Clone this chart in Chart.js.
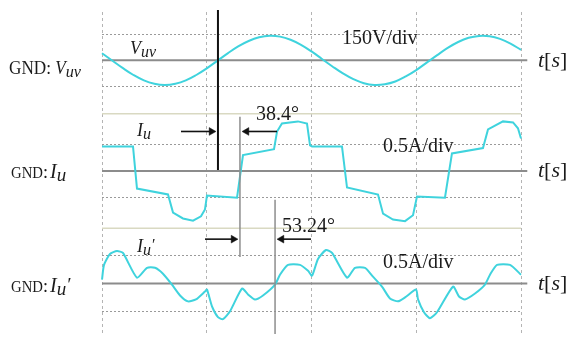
<!DOCTYPE html>
<html><head><meta charset="utf-8">
<script src="https://cdn.jsdelivr.net/npm/chart.js@4.4.1/dist/chart.umd.min.js"></script>
<style>html,body{margin:0;padding:0;background:#fff}#wrap{width:571px;height:340px;position:relative}</style>
</head><body><div id="wrap"><canvas id="c"></canvas></div>
<script>
// ---- data (time in divisions, values in V / A) ----
const timeDivs = [0, 1, 2, 3, 4];
const vuvTime = [0,0.1,0.2,0.3,0.4,0.5,0.6,0.7,0.8,0.9,1.0,1.1,1.2,1.3,1.4,1.5,1.6,1.7,1.8,1.9,2.0,2.1,2.2,2.3,2.4,2.5,2.6,2.7,2.8,2.9,3.0,3.1,3.2,3.3,3.4,3.5,3.6,3.7,3.8,3.9,4.0];
const vuv = [41,-2,-45,-84,-115,-134,-141,-134,-115,-84,-46,-3,40,80,111,132,141,136,118,89,51,8,-35,-75,-108,-131,-141,-137,-121,-92,-56,-13,30,71,105,129,140,138,123,96,60];
const iuTime = [0,0.296,0.334,0.63,0.678,0.773,0.869,0.945,0.983,1.002,1.289,1.346,1.642,1.671,1.718,1.871,1.957,1.986,2.005,2.291,2.339,2.635,2.683,2.778,2.893,2.969,3.007,3.274,3.341,3.637,3.685,3.828,3.924,3.971,4.0];
const iu = [0.46,0.46,-0.33,-0.44,-0.78,-0.89,-0.93,-0.85,-0.72,-0.46,-0.50,0.30,0.41,0.74,0.89,0.93,0.89,0.48,0.46,0.46,-0.31,-0.44,-0.80,-0.91,-0.94,-0.83,-0.48,-0.50,0.33,0.43,0.78,0.93,0.91,0.80,0.61];
const iu2Time = [0,0.019,0.076,0.143,0.2,0.334,0.43,0.506,0.582,0.668,0.745,0.821,0.897,0.983,1.002,1.05,1.107,1.155,1.222,1.337,1.394,1.461,1.537,1.652,1.699,1.776,1.89,1.967,2.005,2.062,2.138,2.196,2.339,2.415,2.511,2.587,2.673,2.749,2.826,2.893,2.998,3.017,3.074,3.131,3.198,3.351,3.408,3.465,3.561,3.656,3.704,3.771,3.895,4.0];
const iu2 = [0.071,0.339,0.536,0.589,0.554,0.107,0.286,0.286,0.179,-0.018,-0.214,-0.321,-0.286,-0.143,-0.107,-0.411,-0.607,-0.643,-0.5,-0.089,-0.196,-0.286,-0.214,-0.018,0.161,0.339,0.339,0.232,0.143,0.446,0.607,0.554,0.107,0.286,0.286,0.125,-0.054,-0.268,-0.321,-0.25,-0.107,-0.286,-0.518,-0.625,-0.518,-0.054,-0.232,-0.286,-0.179,-0.018,0.161,0.339,0.339,0.161];
const vGrid = [-150, 150];       // ±1 div at 150 V/div
const iGrid = [-0.5, 0.5];       // ±1 div at 0.5 A/div
// annotation markers (time in divisions, levels in panel units)
const markBlack = {x: 1.107, axis: 'yI', y1: 3.02, y2: 0.02};
const markGray1 = {x: 1.317, axis: 'yI2', y1: 3.018, y2: 0.482};
const markGray2 = {x: 1.652, axis: 'yI2', y1: 1.518, y2: -0.911};
const arrows = [
  {axis: 'yI', y: 0.741, from: 0.754, to: 1.088},
  {axis: 'yI', y: 0.741, from: 1.671, to: 1.337},
  {axis: 'yI2', y: 0.804, from: 0.983, to: 1.298},
  {axis: 'yI2', y: 0.804, from: 1.995, to: 1.671}
];
const separators = [1.074, -1.074];

const CYAN = '#3fd3dd';
const pts = (xs, ys) => xs.map((x, i) => ({x, y: ys[i]}));
const seg = (axis, color, width, data, order, extra) => Object.assign({
  data, yAxisID: axis, showLine: true, borderColor: color, backgroundColor: color,
  borderWidth: width, pointRadius: 0, tension: 0, clip: false, order
}, extra || {});

const datasets = [];
separators.forEach(s => datasets.push(seg('yI', '#d9d9c2', 1.5, [{x:0,y:s},{x:4,y:s}], 10)));
['yV','yI','yI2'].forEach(a => datasets.push(seg(a, '#8c8c8c', 2, [{x:0,y:0},{x:4.06,y:0}], 9, {
  pointRadius: [0, 5.5], pointStyle: 'triangle', pointRotation: [0, 90],
  pointBackgroundColor: '#8c8c8c', pointBorderColor: '#8c8c8c', pointBorderWidth: 0.5
})));
datasets.push(seg('yV', CYAN, 2, pts(vuvTime, vuv), 5, {tension: 0.4}));
datasets.push(seg('yI', CYAN, 2, pts(iuTime, iu), 5));
datasets.push(seg('yI2', CYAN, 2, pts(iu2Time, iu2), 5, {tension: 0.2}));
datasets.push(seg(markBlack.axis, '#111', 2, [{x:markBlack.x,y:markBlack.y1},{x:markBlack.x,y:markBlack.y2}], 1));
[markGray1, markGray2].forEach(m => datasets.push(seg(m.axis, '#8e8e8e', 1.5, [{x:m.x,y:m.y1},{x:m.x,y:m.y2}], 2)));
arrows.forEach(a => {
  const dir = Math.sign(a.to - a.from);
  const head = a.to - dir * 0.043;
  datasets.push(seg(a.axis, '#111', 1.6, [{x:a.from,y:a.y},{x:head,y:a.y}], 1, {
    pointRadius: [0, 4.5], pointStyle: 'triangle', pointRotation: [0, dir > 0 ? 90 : 270],
    pointBackgroundColor: '#111', pointBorderColor: '#111', pointBorderWidth: 0.5
  }));
});

// ---- texts ----
const textItems = [
  {px: 9, axis: 'yV', v: 0, dy: 14, w: 72, runs: [['GND: ',0,18,0],['V',1,18,0],['uv',1,17,3]]},
  {px: 11, axis: 'yI', v: 0, dy: 7, w: 32, runs: [['GND',0,17,0]]},
  {px: 43, axis: 'yI', v: 0, dy: 7, runs: [[':',0,18,0]]},
  {px: 50, axis: 'yI', v: 0, dy: 7, runs: [['I',1,20,0],['u',1,19,3]]},
  {px: 11, axis: 'yI2', v: 0, dy: 8, w: 32, runs: [['GND',0,17,0]]},
  {px: 43, axis: 'yI2', v: 0, dy: 8, runs: [[':',0,18,0]]},
  {px: 50, axis: 'yI2', v: 0, dy: 8, runs: [['I',1,20,0],['u',1,19,3],['\u2032',1,19,-1]]},
  {px: 538, axis: 'yV', v: 0, dy: 7, runs: [['t',1,22,0],['[',0,22,0],['s',1,22,0],[']',0,22,0]]},
  {px: 538, axis: 'yI', v: 0, dy: 6, runs: [['t',1,22,0],['[',0,22,0],['s',1,22,0],[']',0,22,0]]},
  {px: 538, axis: 'yI2', v: 0, dy: 6, runs: [['t',1,22,0],['[',0,22,0],['s',1,22,0],[']',0,22,0]]},
  {x: 0.267, axis: 'yV', v: 34, w: 26, runs: [['V',1,18,0],['uv',1,16,3]]},
  {x: 2.291, axis: 'yV', v: 96, runs: [['150V/div',0,20,0]]},
  {x: 0.334, axis: 'yI', v: 0.648, runs: [['I',1,18,0],['u',1,16,3]]},
  {x: 1.47, axis: 'yI', v: 0.963, runs: [['38.4°',0,20,0]]},
  {x: 2.683, axis: 'yI', v: 0.352, runs: [['0.5A/div',0,20,0]]},
  {x: 0.334, axis: 'yI2', v: 0.571, runs: [['I',1,18,0],['u',1,16,3],['\u2032',1,16,-2]]},
  {x: 1.718, axis: 'yI2', v: 0.929, runs: [['53.24°',0,20,0]]},
  {x: 2.683, axis: 'yI2', v: 0.286, runs: [['0.5A/div',0,20,0]]}
];
const fontOf = r => (r[1] ? 'italic ' : '') + r[2] + 'px "Liberation Serif", serif';
const textPlugin = {
  id: 'texts',
  afterDraw(chart) {
    const ctx = chart.ctx;
    ctx.save();
    ctx.fillStyle = '#1b1b1b';
    ctx.textBaseline = 'alphabetic';
    textItems.forEach(it => {
      const x0 = it.px !== undefined ? it.px : chart.scales.x.getPixelForValue(it.x);
      const y0 = chart.scales[it.axis].getPixelForValue(it.v) + (it.dy || 0);
      const ws = it.runs.map(r => { ctx.font = fontOf(r); return ctx.measureText(r[0]).width; });
      const total = ws.reduce((a, b) => a + b, 0);
      const s = it.w ? it.w / total : 1;
      ctx.save();
      ctx.translate(x0, y0);
      ctx.scale(s, 1);
      let cx = 0;
      it.runs.forEach((r, i) => { ctx.font = fontOf(r); ctx.fillText(r[0], cx, r[3]); cx += ws[i]; });
      ctx.restore();
    });
    ctx.restore();
  }
};

const hiddenAxis = (extra) => Object.assign({
  ticks: {display: false}, border: {display: false, dash: [2, 2]},
  grid: {color: '#9a9a9a', lineWidth: 1, drawTicks: false}
}, extra);
const yAxis = (min, max, gridVals) => hiddenAxis({
  type: 'linear', position: 'left', min, max,
  afterBuildTicks: ax => { ax.ticks = gridVals.map(v => ({value: v})); },
  afterFit: ax => { ax.width = 0; }
});

new Chart(document.getElementById('c'), {
  type: 'scatter',
  data: {datasets},
  options: {
    responsive: true, maintainAspectRatio: false, animation: false,
    layout: {padding: {left: 102, right: 50, top: 12, bottom: 2}},
    plugins: {legend: {display: false}, tooltip: {enabled: false}},
    events: [],
    scales: {
      x: hiddenAxis({
        type: 'linear', min: timeDivs[0], max: timeDivs[timeDivs.length - 1],
        grid: {color: '#b4b4b4', lineWidth: 1, drawTicks: false},
        border: {display: false, dash: [3, 3]},
        afterBuildTicks: ax => { ax.ticks = timeDivs.map(v => ({value: v})); },
        afterFit: ax => { ax.height = 0; }
      }),
      yV: yAxis(-1568, 277, vGrid),
      yI: yAxis(-3.056, 2.981, iGrid),
      yI2: yAxis(-0.911, 4.911, iGrid)
    }
  },
  plugins: [textPlugin]
});
</script></body></html>
